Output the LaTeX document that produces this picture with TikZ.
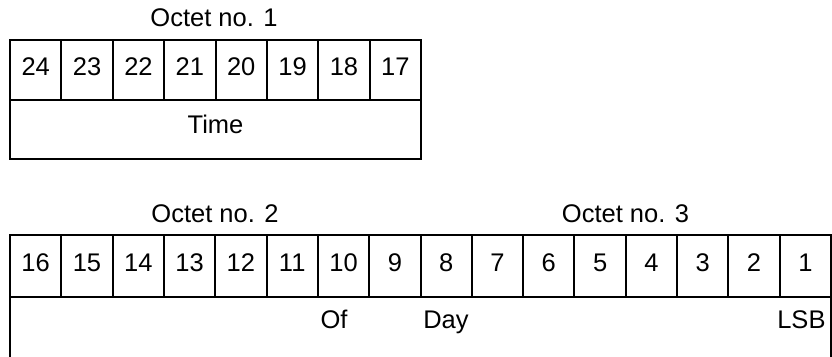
\documentclass[tikz,border=0pt]{standalone}
\usepackage{fontspec}
\setmainfont{Liberation Sans}
\begin{document}
\begin{tikzpicture}[x=1pt,y=-1pt,
  box/.style={draw, line width=2pt, inner sep=0pt, outer sep=0pt},
  cellA/.style={box, minimum width=51.375pt, minimum height=60pt},
  cellB/.style={box, minimum width=51.3125pt, minimum height=62pt},
  lbl/.style={inner sep=0pt, outer sep=0pt, anchor=base, font=\fontsize{25.5}{30}\selectfont},
]
\useasboundingbox (0,0) rectangle (832,356);
\clip (0,0) rectangle (832,356);
% Octet 1
\node[lbl] (o1) at (214,26.5) {Octet no. 1};
\foreach \n [count=\i from 0] in {24,23,...,17} {
  \node[cellA] (c\n) at ({10+51.375*(\i+0.5)},70) {};
  \node[lbl] (n\n) at ({10+51.375*(\i+0.5)},75) {\n};
}
\node[box, minimum width=411pt, minimum height=59pt] (timebox) at (215.5,129.5) {};
\node[lbl] (time) at (215.5,133.5) {Time};
% Octets 2 and 3
\node[lbl] (o2) at (215,222.5) {Octet no. 2};
\node[lbl] (o3) at (625.5,222.5) {Octet no. 3};
\foreach \n [count=\i from 0] in {16,15,...,1} {
  \node[cellB] (c\n) at ({10+51.3125*(\i+0.5)},266) {};
  \node[lbl] (n\n) at ({10+51.3125*(\i+0.5)},271.5) {\n};
}
\node[box, minimum width=821pt, minimum height=103pt] (daybox) at (420.5,348.5) {};
\node[lbl] (of) at (334,328.5) {Of};
\node[lbl] (day) at (446,328.5) {Day};
\node[lbl, anchor=base east] (lsb) at (825.5,328.5) {LSB};
\end{tikzpicture}
\end{document}
